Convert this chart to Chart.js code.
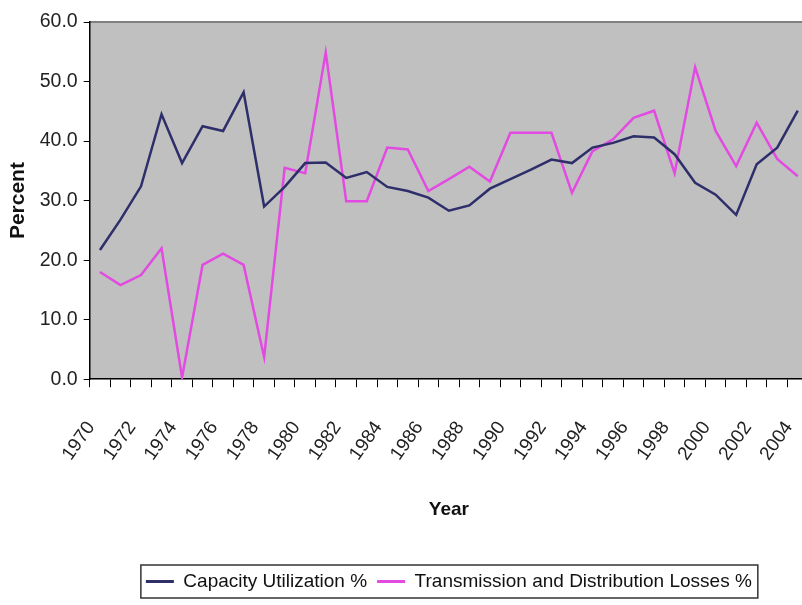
<!DOCTYPE html>
<html>
<head>
<meta charset="utf-8">
<script src="https://cdn.jsdelivr.net/npm/chart.js@4.4.1/dist/chart.umd.min.js"></script>
<style>
  html, body { margin: 0; padding: 0; background: #fff; }
  #wrap { width: 802px; height: 605px; overflow: hidden; }
</style>
</head>
<body>
<div id="wrap"><canvas id="chart" width="810" height="605"></canvas></div>
<script>
const years = [
  '1970','1971','1972','1973','1974','1975','1976','1977','1978','1979',
  '1980','1981','1982','1983','1984','1985','1986','1987','1988','1989',
  '1990','1991','1992','1993','1994','1995','1996','1997','1998','1999',
  '2000','2001','2002','2003','2004'
];
const capacityUtilization = [
  21.7, 26.8, 32.4, 44.5, 36.3, 42.5, 41.7, 48.2, 29.0, 32.3,
  36.3, 36.4, 33.8, 34.8, 32.3, 31.6, 30.5, 28.3, 29.2, 32.0,
  33.6, 35.2, 36.9, 36.3, 38.9, 39.7, 40.8, 40.6, 37.8, 33.0,
  31.0, 27.6, 36.1, 38.9, 45.1
];
const tdLosses = [
  18.0, 15.8, 17.5, 22.0, 0.3, 19.2, 21.1, 19.2, 3.7, 35.5,
  34.6, 54.9, 29.9, 29.9, 38.9, 38.6, 31.6, 33.6, 35.7, 33.2,
  41.4, 41.4, 41.4, 31.3, 38.3, 40.3, 43.9, 45.1, 34.6, 52.4,
  41.7, 35.8, 43.1, 37.0, 34.1
];
const seriesNames = ['Capacity Utilization %', 'Transmission and Distribution Losses %'];
const seriesColors = ['#2e2e6a', '#e24ae2'];

const FONT = "'Liberation Sans', Arial, sans-serif";

// gray plot area + top border, Excel style
const plotBg = {
  id: 'plotBg',
  beforeDraw(chart) {
    const { ctx, chartArea: a } = chart;
    ctx.save();
    ctx.fillStyle = '#c0c0c0';
    ctx.fillRect(a.left, a.top, a.right - a.left, a.bottom - a.top);
    ctx.strokeStyle = '#808080';
    ctx.lineWidth = 2;
    ctx.beginPath();
    ctx.moveTo(a.left, a.top);
    ctx.lineTo(a.right, a.top);
    ctx.stroke();
    ctx.restore();
  }
};

// box around the legend
const legendFrame = {
  id: 'legendFrame',
  afterDraw(chart) {
    const boxes = chart.legend && chart.legend.legendHitBoxes;
    if (!boxes || !boxes.length) return;
    const l = Math.min(...boxes.map(b => b.left)) - 5;
    const r = Math.max(...boxes.map(b => b.left + b.width)) + 6;
    const t = Math.min(...boxes.map(b => b.top)) - 7;
    const btm = Math.max(...boxes.map(b => b.top + b.height)) + 7;
    const { ctx } = chart;
    ctx.save();
    ctx.strokeStyle = '#333';
    ctx.lineWidth = 1.5;
    ctx.strokeRect(l, t, r - l, btm - t);
    ctx.restore();
  }
};

new Chart(document.getElementById('chart'), {
  type: 'line',
  data: {
    labels: years,
    datasets: [
      { label: seriesNames[0], data: capacityUtilization, borderColor: seriesColors[0], backgroundColor: seriesColors[0], borderWidth: 2.5, pointRadius: 0, tension: 0 },
      { label: seriesNames[1], data: tdLosses, borderColor: seriesColors[1], backgroundColor: seriesColors[1], borderWidth: 2.5, pointRadius: 0, tension: 0 },
    ],
  },
  options: {
    responsive: false,
    devicePixelRatio: 1,
    animation: false,
    layout: { padding: { top: 22, right: 2, bottom: 4, left: 0 } },
    plugins: {
      tooltip: { enabled: false },
      legend: {
        position: 'bottom',
        fullSize: false,
        labels: {
          font: { family: FONT, size: 19 },
          color: '#111',
          boxWidth: 28,
          boxHeight: 3,
          padding: 10,
          generateLabels: (chart) => chart.data.datasets.map((ds, i) => ({
            text: ds.label, fillStyle: ds.borderColor, strokeStyle: ds.borderColor,
            lineWidth: 0, datasetIndex: i, hidden: false, fontColor: '#111',
          })),
        },
      },
    },
    scales: {
      x: {
        offset: true,
        grid: { offset: true, drawOnChartArea: false, drawTicks: true, tickLength: 8, color: '#000' },
        border: { color: '#000', width: 1.5 },
        ticks: {
          autoSkip: false, minRotation: 55, maxRotation: 55,
          padding: 30, labelOffset: -9,
          font: { family: FONT, size: 19 }, color: '#222',
          callback: (v, i) => (i % 2 === 0 ? years[i] : ''),
        },
        title: { display: true, text: 'Year', font: { family: FONT, size: 19, weight: 'bold' }, color: '#111', padding: { top: 0, bottom: 41 } },
        afterFit: (s) => { s.height = 182.8; s.paddingLeft = 0; s.paddingRight = 0; },
      },
      y: {
        min: 0, max: 60,
        grid: { drawOnChartArea: false, drawTicks: true, tickLength: 6, color: '#000' },
        border: { color: '#000', width: 1.5 },
        ticks: {
          stepSize: 10, padding: 6,
          font: { family: FONT, size: 19.5 }, color: '#222',
          callback: (v) => Number(v).toFixed(1),
        },
        title: { display: true, text: 'Percent', font: { family: FONT, size: 21, weight: 'bold' }, color: '#111', padding: { top: 6, bottom: 0 } },
        afterFit: (s) => { s.width = 89.7; s.paddingTop = 0; s.paddingBottom = 0; },
      },
    },
  },
  plugins: [plotBg, legendFrame],
});
</script>
</body>
</html>
